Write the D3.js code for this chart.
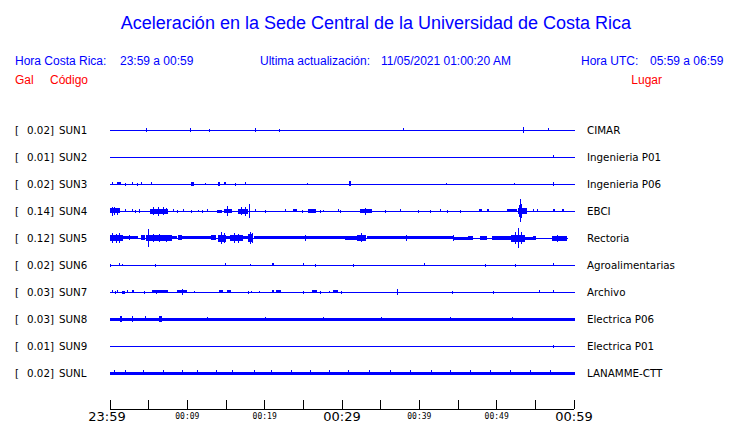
<!DOCTYPE html>
<html><head><meta charset="utf-8">
<script src="https://cdn.jsdelivr.net/npm/d3@7"></script>
<style>html,body{margin:0;padding:0;background:#fff;}svg{display:block;}</style>
</head><body><svg id="c" width="740" height="423"></svg>
<script>
// ---------- data ----------
const titleText = "Aceleración en la Sede Central de la Universidad de Costa Rica";
const codes  = ["SUN1","SUN2","SUN3","SUN4","SUN5","SUN6","SUN7","SUN8","SUN9","SUNL"];
const peaks  = ["0.02","0.01","0.02","0.14","0.12","0.02","0.03","0.03","0.01","0.02"];
const places = ["CIMAR","Ingenieria P01","Ingenieria P06","EBCI","Rectoria","Agroalimentarias","Archivo","Electrica P06","Electrica P01","LANAMME-CTT"];
// background noise half-amplitude (Gal) and end of record (minutes after 23:59)
const noise  = [0.005,0.005,0.005,0.005,0.006,0.005,0.005,0.018,0.005,0.018];
const ends   = [60,60,60,60,59.1,60,60,60,60,60];
// events: [start minute, end minute, half-amplitude Gal]
const sun1 = [[4.7,4.7,0.025],[10.3,10.3,0.025],[12.8,12.8,0.015],[18.8,18.8,0.025],[21.8,21.8,0.015],[37.9,37.9,0.02],[53.4,53.4,0.035],[56.6,56.6,0.02]];
const sun2 = [[57.3,57.3,0.02]];
const sun3 = [[0.2,0.2,0.02],[0.9,1.4,0.02],[1.9,1.9,0.015],[2.8,2.8,0.02],[3.5,3.5,0.015],[4.0,4.0,0.02],[5.3,5.3,0.02],[10.5,10.9,0.025],[12.3,12.3,0.012],[14.0,14.2,0.025],[14.7,15.0,0.02],[16.1,16.1,0.015],[17.5,17.5,0.02],[25.5,25.5,0.012],[30.9,31.2,0.03],[43.5,43.5,0.012],[52.2,52.2,0.012],[57.3,57.3,0.025]];
const sun4 = [[0,1.3,0.03],[0.3,0.3,0.05],[0.5,0.5,0.045],[0.9,0.9,0.04],[1.9,1.9,0.02],[2.8,2.8,0.02],[3.2,3.2,0.015],[3.8,3.8,0.025],
  [5.2,7.5,0.028],[5.6,5.6,0.047],[6.2,6.2,0.05],[6.8,6.8,0.047],[7.3,7.3,0.035],[8.1,8.1,0.02],[8.7,8.7,0.015],[9.4,9.4,0.02],[10.5,10.5,0.015],[11.4,11.4,0.012],[11.9,11.9,0.015],[12.6,12.6,0.02],
  [13.9,14.5,0.015],[14.7,15.7,0.025],[15.1,15.1,0.06],[16.6,17.9,0.028],[17.0,17.0,0.045],[17.4,17.4,0.05],[18.0,18.0,0.082],
  [18.75,18.75,0.02],[20.1,20.1,0.015],[22.6,22.6,0.02],[23.7,24.2,0.02],[24.8,24.8,0.015],[25.6,26.6,0.022],[27.2,27.2,0.015],[27.6,27.6,0.012],[29.5,29.5,0.02],[29.8,29.8,0.015],
  [32.3,33.9,0.025],[33.0,33.0,0.04],[35.5,35.5,0.015],[37.5,37.5,0.02],[39.8,39.8,0.015],[41.4,41.4,0.015],[42.7,42.7,0.02],[43.6,43.6,0.015],[45.3,45.3,0.015],[47.7,48.1,0.02],[48.7,49.0,0.02],
  [51.3,52.6,0.02],[52.7,53.8,0.035],[52.9,52.9,0.07],[53.0,53.0,0.137],[53.2,53.2,0.08],[54.7,54.7,0.02],[55.2,55.2,0.02],[57.3,57.5,0.02],[58.4,58.7,0.02]];
const sun5 = [[0,1.7,0.035],[0.3,0.3,0.058],[0.8,0.8,0.05],[1.2,1.2,0.058],[1.7,3.7,0.02],[2.5,2.5,0.03],[4.0,4.5,0.03],
  [4.7,8.0,0.035],[4.95,4.95,0.105],[5.6,5.6,0.047],[6.4,6.4,0.045],[7.3,7.3,0.04],[8.0,8.6,0.018],[8.75,9.3,0.03],[9.3,13.1,0.02],[13.1,13.8,0.03],
  [14.0,15.0,0.04],[14.3,14.3,0.07],[14.7,14.7,0.06],[15.0,15.5,0.02],[15.5,17.2,0.035],[16.0,16.0,0.058],[16.6,16.6,0.05],[17.2,17.9,0.018],
  [17.9,18.6,0.045],[18.1,18.1,0.07],[18.4,18.4,0.06],[18.6,30.4,0.02],[25.2,25.2,0.035],[30.4,32.0,0.022],[32.0,33.2,0.035],[32.5,32.5,0.055],
  [33.2,42.7,0.02],[38.3,38.3,0.035],[42.7,44.4,0.018],[44.4,44.4,0.035],[44.4,46.3,0.015],[46.3,47.0,0.023],[47.8,48.7,0.023],[49.4,51.9,0.023],
  [51.9,53.7,0.04],[52.4,52.4,0.07],[52.8,52.8,0.117],[53.1,53.1,0.07],[53.7,54.7,0.015],[54.7,55.1,0.023],[57.1,59.1,0.028],[57.8,57.8,0.04]];
const sun6 = [[0,0,0.015],[1.2,1.2,0.02],[1.6,1.6,0.012],[5.8,5.8,0.015],[14.9,14.9,0.02],[18.1,18.1,0.012],[20.9,21.2,0.02],[25.0,25.1,0.02],[26.5,26.5,0.015],[31.4,31.4,0.015],[40.6,40.6,0.02],[48.5,48.5,0.015],[52.4,52.4,0.015],[57.3,57.3,0.02]];
const sun7 = [[0.2,0.2,0.02],[0.6,0.6,0.015],[0.9,0.9,0.02],[1.5,1.9,0.015],[2.2,2.2,0.02],[2.8,3.1,0.02],[4.4,4.4,0.015],[5.4,7.5,0.018],[6.0,6.0,0.025],[8.6,9.9,0.02],[9.3,9.3,0.035],[10.8,10.8,0.012],[14.1,14.6,0.02],[15.1,15.6,0.02],[17.8,17.8,0.015],[18.2,18.2,0.012],[19.3,19.3,0.012],[20.9,21.1,0.02],[21.5,22.1,0.02],[25.0,25.0,0.015],[26.1,26.7,0.02],[27.2,27.2,0.015],[28.3,28.3,0.012],[28.9,29.5,0.02],[29.9,29.9,0.015],[37.1,37.1,0.035],[44.2,44.2,0.015],[49.5,49.5,0.015],[55.5,55.5,0.02],[57.3,57.3,0.02]];
const sun8 = [[1.3,1.6,0.035],[2.8,2.8,0.035],[4.5,4.5,0.03],[6.3,6.7,0.035],[12.5,12.5,0.025],[20.0,20.0,0.025],[27.5,27.5,0.025],[35.0,35.0,0.025],[44.0,44.0,0.025],[52.0,52.0,0.025]];
const sun9 = [[57.3,57.3,0.015]];
const sunL = [[0.5,0.5,0.03],[2.0,2.0,0.03],[4.3,4.3,0.03],[6.8,6.8,0.03],[9.3,9.3,0.03],[11.3,11.3,0.03],[13.7,13.7,0.03],[15.8,15.8,0.03],[18.6,18.6,0.03],[20.8,20.8,0.03],[23.4,23.4,0.03],[25.9,25.9,0.03],[28.3,28.3,0.03],[30.8,30.8,0.03],[33.5,33.5,0.03],[36.2,36.2,0.03],[38.8,38.8,0.03],[41.5,41.5,0.03],[44.0,44.0,0.03],[46.6,46.6,0.03],[49.1,49.1,0.03],[51.7,51.7,0.03],[54.3,54.3,0.03],[56.9,56.9,0.03]];
const events = [sun1,sun2,sun3,sun4,sun5,sun6,sun7,sun8,sun9,sunL];
const tickMinutes = d3.range(0,61,5);
const tickLabels = {0:"23:59",10:"00:09",20:"00:19",30:"00:29",40:"00:39",50:"00:49",60:"00:59"};
const bigTicks = [0,30,60];

// ---------- drawing ----------
const svg = d3.select("#c");
const BLUE = "#0000ff", RED = "#ff0000";
const x = d3.scaleLinear().domain([0,60]).range([110,574]);
const y = d3.scalePoint().domain(codes).range([130,373]);
const amp = d3.scaleLinear().domain([0,0.14]).range([0,12]);

svg.append("text").attr("x",376).attr("y",29).attr("text-anchor","middle")
  .attr("font-family","Liberation Sans, Arial, sans-serif").attr("font-size",18)
  .attr("fill",BLUE).text(titleText);

const hdr = (tx,xx,yy,col,anchor) => svg.append("text").attr("x",xx).attr("y",yy)
  .attr("text-anchor",anchor||"start").attr("font-family","Liberation Sans, Arial, sans-serif")
  .attr("font-size",12).attr("fill",col).text(tx);
hdr("Hora Costa Rica:",15,65,BLUE);
hdr("23:59 a 00:59",120,65,BLUE);
hdr("Ultima actualización:",260,65,BLUE);
hdr("11/05/2021 01:00:20 AM",381,65,BLUE);
hdr("Hora UTC:",581,65,BLUE);
hdr("05:59 a 06:59",650,65,BLUE);
hdr("Gal",15,84,RED);
hdr("Código",50,84,RED);
hdr("Lugar",662,84,RED,"end");

const lab = {"font-family":"DejaVu Sans, sans-serif","font-size":10.3,"fill":"#000"};
const rows = svg.append("g");
codes.forEach((c,i) => {
  const cy = y(c);
  const g = rows.append("g");
  const t1 = g.append("text").attr("x",15).attr("y",cy+4).text("[");
  const t2 = g.append("text").attr("x",54).attr("y",cy+4).attr("text-anchor","end").text(peaks[i]+"]");
  const t3 = g.append("text").attr("x",59).attr("y",cy+4).text(c);
  const t4 = g.append("text").attr("x",587).attr("y",cy+4).text(places[i]);
  [t1,t2,t3,t4].forEach(t => Object.entries(lab).forEach(([k,v]) => t.attr(k,v)));
  const tr = g.append("g").attr("shape-rendering","crispEdges").attr("fill",BLUE);
  // baseline noise band
  const bh = Math.max(1, Math.round(2*amp(noise[i])));
  tr.append("rect").attr("x",x(0)).attr("width",x(ends[i])-x(0)+1)
    .attr("y",Math.round(cy-bh/2)).attr("height",bh);
  tr.selectAll("rect.ev").data(events[i]).join("rect").attr("class","ev")
    .attr("x",d => Math.round(x(d[0])))
    .attr("width",d => Math.max(1, Math.round(x(d[1])-x(d[0]))))
    .attr("y",d => Math.round(cy - amp(d[2])))
    .attr("height",d => Math.max(1, Math.round(2*amp(d[2]))));
});

// time axis
const axG = svg.append("g").attr("transform","translate(0,409)");
axG.append("line").attr("x1",x(0)).attr("x2",x(60)).attr("stroke","#000").attr("stroke-width",1).attr("shape-rendering","crispEdges");
axG.selectAll("line.tk").data(tickMinutes).join("line").attr("class","tk").attr("shape-rendering","crispEdges")
  .attr("x1",d=>x(d)).attr("x2",d=>x(d)).attr("y1",0).attr("y2",-9).attr("stroke","#000");
axG.selectAll("text.tl").data(Object.keys(tickLabels).map(Number)).join("text").attr("class","tl")
  .attr("x",d=>x(d) + (d===0?-3:0))
  .attr("y",d=>bigTicks.includes(d)?12:10)
  .attr("text-anchor","middle")
  .attr("font-family",d=>bigTicks.includes(d)?"DejaVu Sans, sans-serif":"DejaVu Sans Mono, monospace")
  .attr("font-size",d=>bigTicks.includes(d)?13:8)
  .attr("fill","#000")
  .text(d=>tickLabels[d]);
</script></body></html>
